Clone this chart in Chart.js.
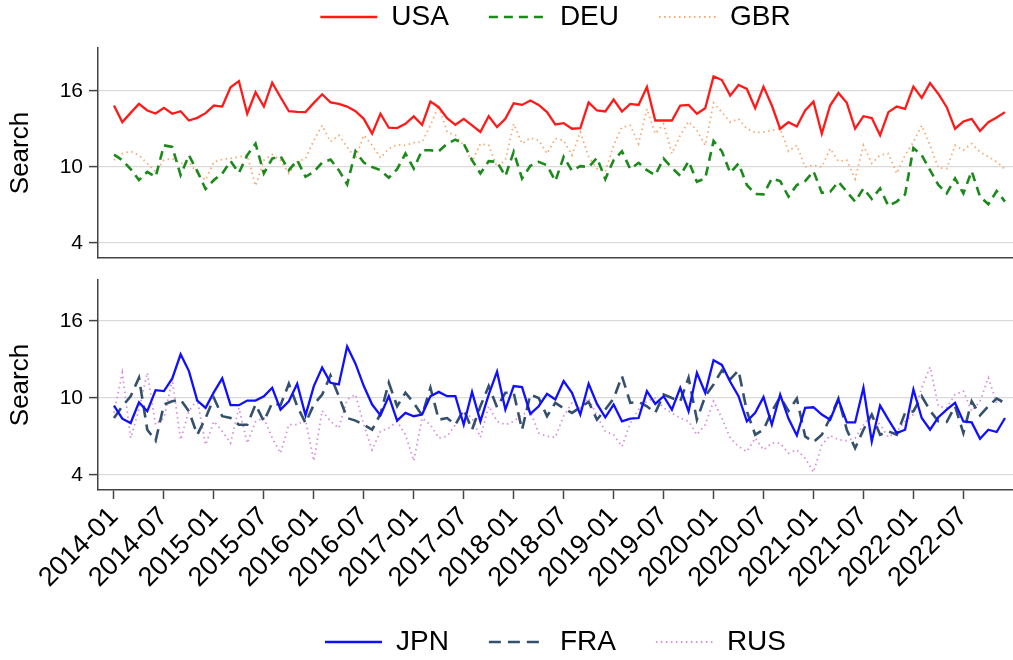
<!DOCTYPE html>
<html><head><meta charset="utf-8">
<script src="https://cdn.jsdelivr.net/npm/chart.js@4.4.1/dist/chart.umd.min.js"></script>
<style>
html,body{margin:0;padding:0;background:#fff;overflow:hidden;}
#wrap{position:relative;width:1013px;height:660px;overflow:hidden;}
canvas{position:absolute;left:0;}
#c1{top:-37px;}
#c2{top:262px;}
</style></head><body>
<div id="wrap"><canvas id="c1" width="1013" height="299"></canvas><canvas id="c2" width="1013" height="420"></canvas></div>
<script>
// ---------- data ----------
const months = [];
for (let y = 2014; y <= 2022; y++) for (let m = 1; m <= 12; m++) months.push(y + '-' + String(m).padStart(2, '0'));
const tickLabels = ['2014-01','2014-07','2015-01','2015-07','2016-01','2016-07','2017-01','2017-07','2018-01','2018-07','2019-01','2019-07','2020-01','2020-07','2021-01','2021-07','2022-01','2022-07'];
const yTicks = [4, 10, 16];

const USA = [14.85,13.54,14.27,14.98,14.46,14.22,14.67,14.2,14.4,13.67,13.88,14.25,14.85,14.77,16.29,16.78,14.2,15.9,14.77,16.65,15.5,14.4,14.35,14.33,15.06,15.74,15.1,
14.98,14.77,14.4,13.8,12.63,14.2,13.1,13.07,13.41,13.99,13.33,15.16,14.72,13.86,13.33,13.8,13.28,12.76,14.01,13.15,13.8,15.03,14.9,15.24,14.9,14.33,13.36,13.46,
13.02,13.07,15.1,14.46,14.38,15.32,14.38,14.98,14.9,16.31,13.67,13.67,13.67,14.85,14.9,14.2,14.64,17.15,16.86,15.63,16.47,16.16,14.64,16.34,14.85,13.02,13.54,
13.2,14.46,15.16,12.63,14.85,15.84,15.06,13.02,14.01,13.86,12.5,14.33,14.77,14.59,16.34,15.45,16.63,15.76,14.72,13.02,13.59,13.8,12.84,13.54,13.91,14.33];
const DEU = [10.98,10.54,9.83,8.97,9.62,9.23,11.71,11.58,9.36,10.93,9.67,8.26,8.97,9.49,10.46,9.54,10.93,11.84,9.49,10.67,10.85,9.75,10.54,9.23,9.62,10.35,10.59,
9.75,8.63,11.24,10.35,10.0,9.75,9.15,9.83,11.06,9.88,11.32,11.32,11.24,11.84,12.16,11.84,10.54,9.49,10.46,10.41,9.28,11.19,9.1,10.09,10.41,10.14,8.89,10.8,
9.7,10.07,10.0,10.72,9.05,10.54,11.24,9.83,10.33,9.75,9.36,10.67,9.93,9.31,10.46,8.84,9.1,12.05,11.24,9.54,10.28,8.58,7.87,7.84,9.1,8.89,7.66,
8.58,8.89,9.67,7.97,8.05,8.84,8.05,7.27,8.31,7.48,8.31,6.92,7.27,7.84,11.5,10.93,9.75,8.58,7.92,9.1,7.92,9.67,7.66,7.06,8.1,7.27];
const GBR = [10.54,11.06,11.24,10.93,10.28,9.62,10.54,10.67,10.28,10.41,9.49,8.97,10.41,10.59,10.67,10.8,10.93,8.52,10.54,10.98,10.54,9.49,10.41,10.67,12.1,13.28,12.0,
12.5,11.58,10.67,12.5,11.71,10.72,11.45,11.76,11.71,11.92,11.97,13.28,14.85,12.76,12.5,11.71,10.41,11.84,11.71,10.0,10.54,13.41,11.84,12.29,12.1,11.06,12.24,12.1,
10.93,12.76,10.8,9.88,9.62,11.71,13.15,13.28,11.84,14.59,12.63,13.41,11.06,12.5,13.59,12.89,11.71,15.06,14.33,13.54,13.8,13.02,12.71,12.76,12.89,13.02,11.24,
11.71,10.0,10.14,10.0,11.45,10.46,10.54,9.05,11.71,10.28,10.93,11.06,9.49,10.93,11.97,13.28,11.71,9.93,9.88,11.71,11.32,11.84,11.19,10.8,10.41,9.83];
const JPN = [9.41,8.39,8.05,9.67,8.97,10.61,10.54,11.53,13.41,12.1,9.8,9.23,10.46,11.53,9.44,9.44,9.8,9.8,10.14,10.8,9.1,9.75,11.11,8.65,10.93,12.37,11.19,
11.06,14.01,12.68,10.93,9.49,8.65,10.14,8.24,8.84,8.58,8.71,10.14,10.48,10.14,10.14,7.92,10.48,8.18,10.27,12.05,9.1,10.93,10.85,8.76,9.36,10.33,9.88,11.32,
10.41,8.71,11.11,9.54,8.5,9.49,8.18,8.39,8.44,10.54,9.54,10.14,9.1,10.8,8.97,11.97,10.41,12.94,12.58,11.27,10.14,8.18,8.84,10.07,7.92,10.27,8.4,
7.08,9.23,9.28,8.71,8.31,9.88,8.1,8.1,10.8,6.61,9.41,8.31,7.27,7.53,10.67,8.44,7.53,8.5,9.1,9.62,8.18,8.1,6.82,7.53,7.35,8.44];
const FRA = [8.44,9.36,10.14,11.58,7.53,6.67,9.49,9.75,9.88,8.97,7.14,8.44,10.0,8.58,8.44,7.92,7.92,9.49,8.18,9.62,9.44,11.11,9.36,8.05,9.49,10.27,11.76,
10.14,8.44,8.24,7.92,7.53,8.76,11.19,9.36,10.41,9.62,8.65,10.8,8.31,8.44,7.92,9.1,7.53,9.36,10.93,9.28,10.41,10.41,7.53,10.27,10.0,8.58,9.62,9.2,
8.84,9.28,9.7,8.31,9.1,9.96,11.71,9.62,9.7,9.36,8.84,10.27,10.0,9.75,11.58,8.31,10.14,11.06,12.16,11.45,12.16,8.97,7.14,7.53,8.97,10.07,9.0,
9.96,7.01,6.56,7.14,8.44,9.96,7.53,6.09,7.53,8.71,7.14,7.4,7.14,8.84,8.97,10.14,9.02,8.18,8.13,9.36,7.27,9.75,8.65,9.36,9.96,9.62];
const RUS = [8.84,11.97,6.88,9.1,11.97,7.92,8.44,11.45,6.75,8.97,9.88,6.35,8.18,7.4,6.48,9.23,6.48,8.18,8.44,6.88,5.7,7.92,7.92,8.31,5.1,9.02,8.18,
7.66,9.88,10.27,7.92,5.96,7.4,7.66,8.18,7.14,5.1,8.44,7.92,6.88,7.01,7.92,8.97,8.44,6.93,9.36,8.18,7.92,8.18,8.71,8.97,7.27,7.01,6.93,8.6,
9.62,9.23,10.0,8.58,7.4,7.14,6.22,8.05,9.1,9.75,10.0,9.23,8.84,8.44,8.18,7.14,7.92,9.75,8.44,6.88,6.22,5.83,6.88,5.96,6.48,6.48,5.7,
5.96,5.31,4.21,6.35,7.08,6.75,6.67,6.88,7.92,8.71,7.92,6.93,7.4,8.18,8.71,10.8,12.42,9.36,9.23,10.27,10.54,8.97,9.75,11.58,9.62,9.75];

// ---------- styling ----------
const FAM = "'Liberation Sans', Arial, sans-serif";
Chart.defaults.font.family = FAM;
Chart.defaults.color = '#000';

const toXY = arr => arr.map((v, i) => ({ x: i, y: v }));
const line = (label, arr, color, width, dash) => ({
  label, data: toXY(arr), borderColor: color, backgroundColor: color,
  borderWidth: width, borderDash: dash, pointRadius: 0, tension: 0, fill: false
});

function legendHeightPlugin(h) {
  return { id: 'lgh', afterInit(chart) {
    const lg = chart.legend; const f = lg.fit.bind(lg);
    lg.fit = function () { f(); this.height = h; };
  } };
}

function genLabels(chart) {
  const items = Chart.defaults.plugins.legend.labels.generateLabels(chart);
  items.forEach(it => {
    const ds = chart.data.datasets[it.datasetIndex];
    it.lineDash = ds.borderDash;
    it.lineWidth = ds.borderWidth;
    it.strokeStyle = ds.borderColor;
    it.lineCap = 'butt';
  });
  return items;
}

function makePanel(id, datasets, opts) {
  return new Chart(document.getElementById(id), {
    type: 'line',
    data: { datasets },
    plugins: [legendHeightPlugin(opts.legendH)],
    options: {
      responsive: false, animation: false, devicePixelRatio: 1,
      layout: { padding: { left: 0, right: 0, top: opts.padTop, bottom: opts.padBottom } },
      plugins: {
        tooltip: { enabled: false },
        legend: {
          position: opts.legendPos, fullSize: false, align: 'center',
          labels: { usePointStyle: true, pointStyle: 'line', pointStyleWidth: 57,
            padding: 40, font: { size: 28, family: FAM }, color: '#000', generateLabels: genLabels }
        }
      },
      scales: {
        x: {
          type: 'linear', min: -1.92, max: 107.96,
          afterBuildTicks: s => { s.ticks = tickLabels.map(l => ({ value: months.indexOf(l) })); },
          afterFit: s => { s.height = opts.xH; },
          ticks: { display: opts.showX, autoSkip: false, minRotation: 45, maxRotation: 45,
            font: { size: 27, family: FAM }, color: '#000', padding: 2,
            callback: v => months[v] },
          grid: { display: opts.showX, drawOnChartArea: false, tickLength: 9, tickColor: '#444', tickWidth: 1.5 },
          border: { display: true, color: '#444', width: 1.5 }
        },
        y: {
          min: opts.yMin, max: opts.yMax,
          afterBuildTicks: s => { s.ticks = yTicks.map(v => ({ value: v })); },
          afterFit: s => { s.width = 98; s.paddingTop = 0; s.paddingBottom = 0; },
          ticks: { font: { size: 21, family: FAM }, color: '#000', padding: 6 },
          grid: { color: '#dadada', lineWidth: 1.2, tickLength: 9, tickColor: '#444', tickWidth: 1.5 },
          border: { display: true, color: '#444', width: 1.5 },
          title: { display: true, text: 'Search', font: { size: 26, family: FAM }, color: '#000', padding: { top: 5, bottom: 0 } }
        }
      }
    }
  });
}

makePanel('c1', [
  line('USA', USA, '#ff1a1a', 2.3, []),
  line('DEU', DEU, '#1b8a1b', 2.6, [9, 6]),
  line('GBR', GBR, '#f6a972', 1.8, [1.5, 3.5])
], { legendPos: 'top', legendH: 85, padTop: 0, padBottom: 4, xH: 0, showX: false, yMin: 2.82, yMax: 19.39 });

makePanel('c2', [
  line('JPN', JPN, '#1010ff', 2.3, []),
  line('FRA', FRA, '#34506b', 2.6, [12, 7]),
  line('RUS', RUS, '#d88fd8', 1.8, [1.5, 3.5])
], { legendPos: 'bottom', legendH: 94, padTop: 18, padBottom: 0, xH: 98, showX: true, yMin: 2.83, yMax: 19.2 });
</script>
</body></html>
